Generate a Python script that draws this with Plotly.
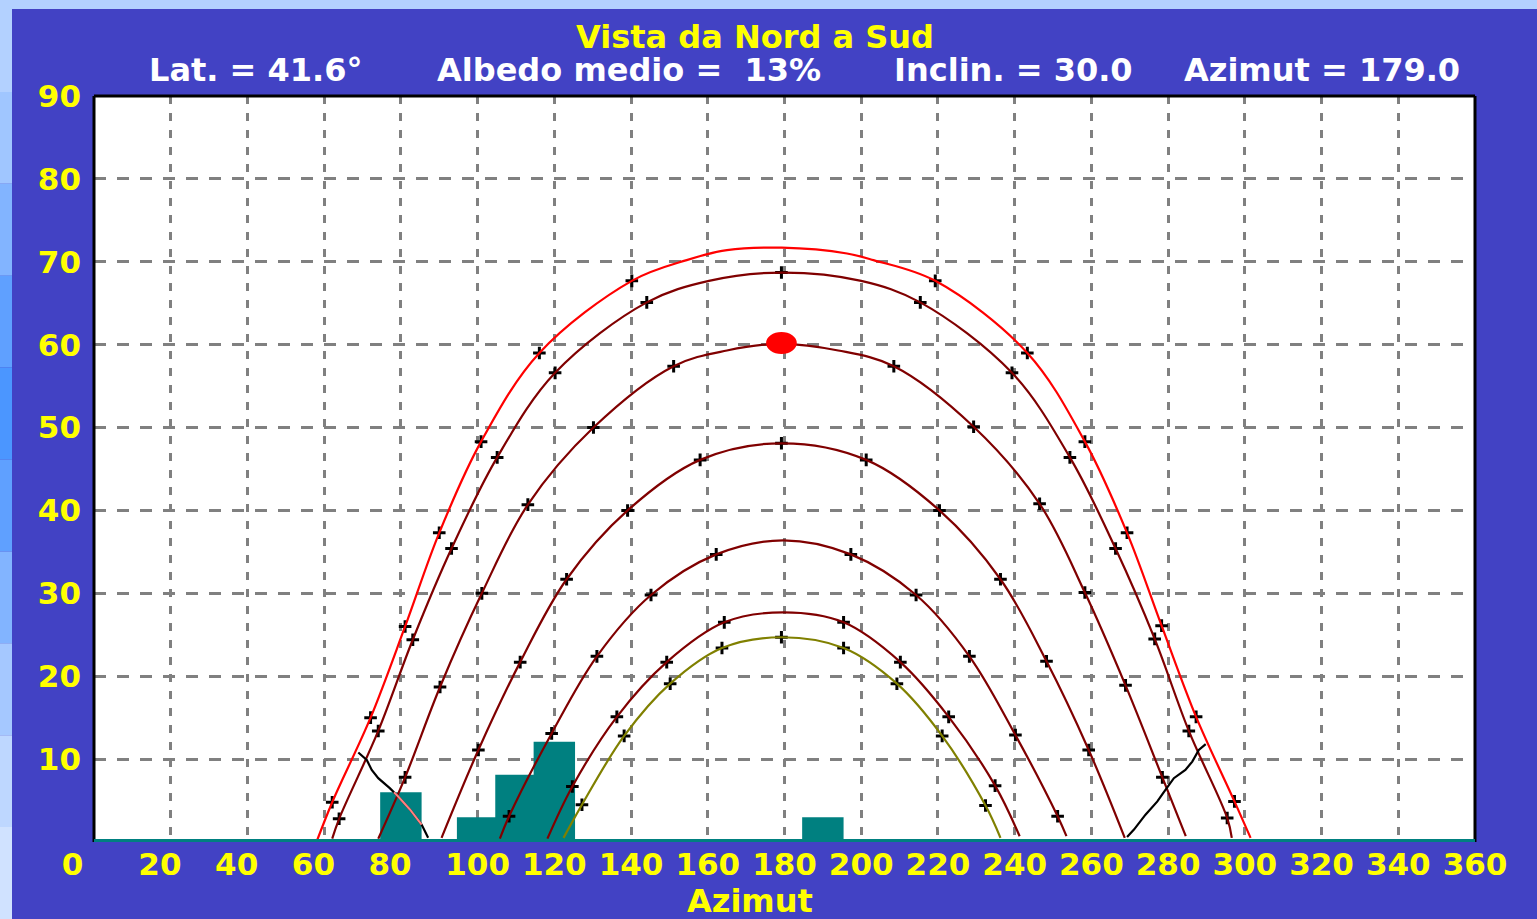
import plotly.graph_objects as go

# ---------------- data ----------------
x_ticks = list(range(0, 361, 20))
y_ticks = list(range(10, 91, 10))

# sun paths (azimuth, altitude)
red_az = [58.0, 62.1, 72.1, 81.1, 90.0, 100.9, 116.1, 140.2, 154.5, 165.0, 179.3,
          196.3, 203.2, 219.3, 243.3, 258.3, 269.3, 278.3, 287.3, 297.3, 301.5]
red_alt = [0.0, 4.8, 15.0, 26.0, 37.3, 48.3, 59.0, 67.7, 70.2, 71.4, 71.7,
           71.0, 70.2, 67.7, 59.0, 48.3, 37.3, 26.1, 15.1, 4.9, 0.5]
red_mk_az = [62.1, 72.1, 81.1, 90.0, 100.9, 116.1, 140.2, 219.3, 243.3, 258.3, 269.3, 278.3, 287.3, 297.3]
red_mk_alt = [4.8, 15.0, 26.0, 37.3, 48.3, 59.0, 67.7, 67.7, 59.0, 48.3, 37.3, 26.1, 15.1, 4.9]

c2_az = [62.1, 63.9, 74.1, 83.1, 93.2, 105.1, 120.2, 144.1, 160.3, 179.2,
         200.0, 215.4, 239.3, 254.4, 266.3, 276.5, 285.4, 295.4, 296.6]
c2_alt = [0.4, 2.8, 13.4, 24.4, 35.4, 46.4, 56.6, 65.1, 67.7, 68.7,
          67.7, 65.1, 56.6, 46.4, 35.4, 24.5, 13.4, 2.9, 0.5]
c2_mk_az = [63.9, 74.1, 83.1, 93.2, 105.1, 120.2, 144.1, 179.2, 215.4, 239.3, 254.4, 266.3, 276.5, 285.4, 295.4]
c2_mk_alt = [2.8, 13.4, 24.4, 35.4, 46.4, 56.6, 65.1, 68.7, 65.1, 56.6, 46.4, 35.4, 24.5, 13.4, 2.9]

c3_az = [74.1, 81.1, 90.2, 101.1, 113.1, 130.2, 151.1, 165.0, 179.2,
         194.0, 208.5, 229.3, 246.5, 258.3, 268.9, 278.5, 284.6]
c3_alt = [0.4, 7.8, 18.7, 30.0, 40.7, 50.0, 57.4, 59.3, 60.1,
          59.3, 57.4, 50.1, 40.8, 30.1, 18.9, 7.8, 0.7]
c3_mk_az = [81.1, 90.2, 101.1, 113.1, 130.2, 151.1, 208.5, 229.3, 246.5, 258.3, 268.9, 278.5]
c3_mk_alt = [7.8, 18.7, 30.0, 40.7, 50.0, 57.4, 57.4, 50.1, 40.8, 30.1, 18.9, 7.8]

c4_az = [90.6, 100.2, 111.1, 123.2, 139.1, 158.0, 179.2, 201.3, 220.4, 236.3, 248.3, 259.3, 268.7]
c4_alt = [0.5, 11.1, 21.7, 31.7, 40.0, 46.1, 48.1, 46.1, 40.0, 31.7, 21.8, 11.1, 0.5]
c4_mk_az = [100.2, 111.1, 123.2, 139.1, 158.0, 179.2, 201.3, 220.4, 236.3, 248.3, 259.3]
c4_mk_alt = [11.1, 21.7, 31.7, 40.0, 46.1, 48.1, 46.1, 40.0, 31.7, 21.8, 11.1]

c5_az = [105.8, 108.2, 119.3, 131.1, 145.2, 162.2, 179.7, 197.3, 214.3, 228.2, 240.2, 251.2, 253.5]
c5_alt = [0.4, 3.1, 13.1, 22.4, 29.8, 34.7, 36.4, 34.7, 29.8, 22.4, 12.9, 3.1, 0.7]
c5_mk_az = [108.2, 119.3, 131.1, 145.2, 162.2, 197.3, 214.3, 228.2, 240.2, 251.2]
c5_mk_alt = [3.1, 13.1, 22.4, 29.8, 34.7, 34.7, 29.8, 22.4, 12.9, 3.1]

c6_az = [118.2, 124.7, 136.3, 149.3, 164.3, 179.7, 195.4, 210.2, 222.8, 234.9, 241.3]
c6_alt = [0.4, 6.7, 15.1, 21.7, 26.5, 27.7, 26.5, 21.7, 15.1, 6.8, 0.7]
c6_mk_az = [124.7, 136.3, 149.3, 164.3, 195.4, 210.2, 222.8, 234.9]
c6_mk_alt = [6.7, 15.1, 21.7, 26.5, 26.5, 21.7, 15.1, 6.8]

dec_az = [122.4, 127.2, 138.2, 150.2, 163.7, 179.2, 195.4, 209.3, 221.1, 232.4, 236.3]
dec_alt = [0.5, 4.5, 12.8, 19.1, 23.4, 24.7, 23.4, 19.1, 12.8, 4.4, 0.5]
dec_mk_az = [127.2, 138.2, 150.2, 163.7, 179.2, 195.4, 209.3, 221.1, 232.4]
dec_mk_alt = [4.5, 12.8, 19.1, 23.4, 24.7, 23.4, 19.1, 12.8, 4.4]

# panel-plane boundary (black lines near the horizon)
pl_left_az = [68.9, 71.1, 72.4, 74.1, 77.1, 78.2, 79.3, 82.4, 85.4, 87.1]
pl_left_alt = [10.8, 9.9, 8.7, 7.7, 6.5, 6.0, 5.5, 3.9, 2.1, 0.5]
pl_right_az = [269.3, 271.1, 274.1, 277.2, 278.7, 281.5, 284.5, 286.3, 288.0, 289.8]
pl_right_alt = [0.6, 1.5, 3.3, 4.9, 5.9, 7.7, 8.7, 9.7, 11.1, 11.8]

# obstacles (horizon profile)
obst_az = [80, 100, 110, 120, 190]
obst_alt = [6.0, 3.0, 8.1, 12.1, 3.0]

# panel normal direction (red dot)
normal_az = 179.2
normal_alt = 60.2

# ---------------- styling ----------------
W, H = 1537, 919
L, R, T, B = 94, 62, 96, 77
BG = "#4242C4"
YEL = "#FFFF00"
FONT = "DejaVu Sans"
RED, DRED, OLIVE, TEAL = "#FF0000", "#800000", "#808000", "#008080"


def px_x(px):
    return (px - L) / (W - L - R)


def px_y(py):
    return (H - B - py) / (H - T - B)


fig = go.Figure()

fig.add_trace(go.Bar(x=obst_az, y=obst_alt, width=10.8,
                     marker=dict(color=TEAL, line=dict(width=0)), hoverinfo="skip"))

marker_sets = [(red_mk_az, red_mk_alt), (c2_mk_az, c2_mk_alt), (c3_mk_az, c3_mk_alt),
               (c4_mk_az, c4_mk_alt), (c5_mk_az, c5_mk_alt), (c6_mk_az, c6_mk_alt),
               (dec_mk_az, dec_mk_alt)]
for maz, malt in marker_sets:
    fig.add_trace(go.Scatter(x=maz, y=malt, mode="markers",
                             marker=dict(symbol="cross-thin", size=9,
                                         line=dict(width=3, color="black"))))

curves = [(c2_az, c2_alt, DRED), (c3_az, c3_alt, DRED), (c4_az, c4_alt, DRED),
          (c5_az, c5_alt, DRED), (c6_az, c6_alt, DRED), (dec_az, dec_alt, OLIVE),
          (red_az, red_alt, RED)]
for caz, calt, col in curves:
    fig.add_trace(go.Scatter(x=caz, y=calt, mode="lines",
                             line=dict(color=col, width=2.2, shape="spline", smoothing=1.0)))

# panel-plane boundary lines
fig.add_trace(go.Scatter(x=pl_left_az, y=pl_left_alt, mode="lines",
                         line=dict(color="black", width=2.2)))
fig.add_trace(go.Scatter(x=pl_right_az, y=pl_right_alt, mode="lines",
                         line=dict(color="black", width=2.2)))
# part of the left line that lies inside the obstacle is drawn pink
bar_left = obst_az[0] - 5.4
bar_right = obst_az[0] + 5.4
pink = [(a, h) for a, h in zip(pl_left_az, pl_left_alt)
        if bar_left <= a <= bar_right and h <= obst_alt[0]]
fig.add_trace(go.Scatter(x=[p[0] for p in pink], y=[p[1] for p in pink], mode="lines",
                         line=dict(color="#FF8080", width=2.2)))

shapes = []
# light strips at top and left edge of the window
shapes.append(dict(type="rect", xref="paper", yref="paper", x0=px_x(0), x1=px_x(W),
                   y0=px_y(9), y1=px_y(0), fillcolor="#B3D1FF", line=dict(width=0), layer="below"))
band_cols = [(179, 209, 255), (160, 198, 255), (130, 180, 255), (95, 160, 255), (75, 150, 255),
             (95, 160, 255), (130, 180, 255), (165, 200, 255), (190, 215, 255), (208, 226, 255)]
nb = len(band_cols)
for i, (r, g, b) in enumerate(band_cols):
    shapes.append(dict(type="rect", xref="paper", yref="paper", x0=px_x(0), x1=px_x(12),
                       y0=px_y(H * (i + 1) / nb), y1=px_y(H * i / nb),
                       fillcolor=f"rgb({r},{g},{b})", line=dict(width=0), layer="below"))
# plot border (black left/top/right, teal ground line)
for x0, y0, x1, y1 in [(0, 0, 0, 1), (0, 1, 1, 1), (1, 0, 1, 1)]:
    shapes.append(dict(type="line", xref="paper", yref="paper", x0=x0, y0=y0, x1=x1, y1=y1,
                       line=dict(color="black", width=3), layer="above"))
shapes.append(dict(type="line", xref="paper", yref="paper", x0=0, x1=1, y0=0.002, y1=0.002,
                   line=dict(color=TEAL, width=3), layer="above"))
# red dot = panel normal
shapes.append(dict(type="circle", xref="x", yref="y",
                   x0=normal_az - 4.0, x1=normal_az + 4.0,
                   y0=normal_alt - 1.33, y1=normal_alt + 1.33,
                   fillcolor=RED, line=dict(width=0), layer="above"))

tfont = dict(family=FONT, size=32, color=YEL, weight="bold")
wfont = dict(family=FONT, size=32, color="white", weight="bold")
annotations = [
    dict(text="Vista da Nord a Sud", x=px_x(755), y=px_y(37), font=tfont),
    dict(text="Lat. = 41.6°", x=px_x(255), y=px_y(70), font=wfont),
    dict(text="Albedo medio =\u00a0\u00a013%", x=px_x(629), y=px_y(70), font=wfont),
    dict(text="Inclin. = 30.0", x=px_x(1013), y=px_y(70), font=wfont),
    dict(text="Azimut = 179.0", x=px_x(1322), y=px_y(70), font=wfont),
    dict(text="Azimut", x=px_x(750), y=px_y(901), font=tfont),
]
for a in annotations:
    a.update(xref="paper", yref="paper", xanchor="center", yanchor="middle", showarrow=False)

x_text = [str(v) + "\u2007" * (3 - len(str(v))) for v in x_ticks]

fig.update_layout(
    width=W, height=H, margin=dict(l=L, r=R, t=T, b=B, pad=0),
    paper_bgcolor=BG, plot_bgcolor="white", showlegend=False,
    shapes=shapes, annotations=annotations,
    xaxis=dict(range=[0, 360], tickmode="array", tickvals=x_ticks, ticktext=x_text,
               showgrid=True, gridcolor="#808080", gridwidth=3, griddash="8px,9px",
               zeroline=False, showline=False, ticks="",
               tickfont=dict(family=FONT, size=31, color=YEL, weight="bold"),
               ticklabelstandoff=1),
    yaxis=dict(range=[0, 90], tickmode="array", tickvals=y_ticks,
               ticktext=[str(v) for v in y_ticks],
               showgrid=True, gridcolor="#808080", gridwidth=3, griddash="12px,11px",
               zeroline=False, showline=False, ticks="",
               tickfont=dict(family=FONT, size=31, color=YEL, weight="bold"),
               ticklabelstandoff=12),
    hovermode=False,
)

fig.write_html("out.html", config={"displayModeBar": False},
               post_script="document.body.style.margin='0';document.body.style.overflow='hidden';")
